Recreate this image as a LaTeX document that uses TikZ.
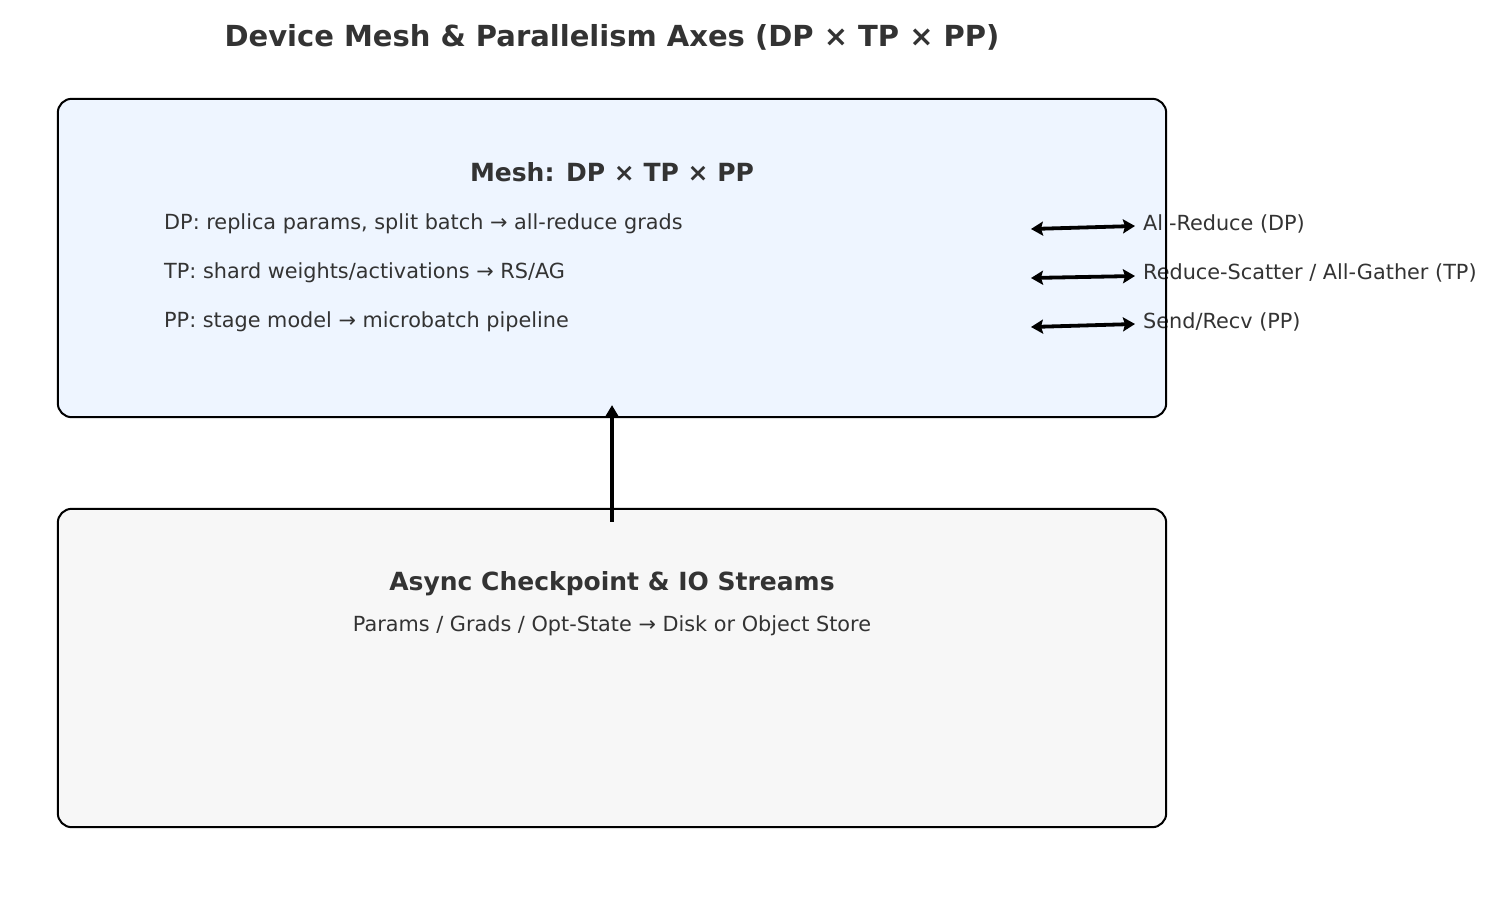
\documentclass[tikz,border=0pt]{standalone}
\usepackage{fontspec}
\setmainfont{DejaVu Sans}
\usetikzlibrary{arrows.meta,calc}
\definecolor{txt}{HTML}{333333}
\definecolor{meshfill}{HTML}{EEF5FF}
\definecolor{iofill}{HTML}{F7F7F7}
\tikzset{
  panel/.style={rounded corners=14pt, minimum width=1108pt, minimum height=318pt, inner sep=0pt},
  border/.style={draw=black, line width=2pt, rounded corners=14pt},
  body/.style={text=txt, font=\fontsize{20.8}{25}\selectfont, inner sep=0pt},
  head/.style={text=txt, font=\fontsize{25}{30}\selectfont\bfseries, inner sep=0pt},
  conn/.style={line width=3.8pt, {Stealth[length=12pt,width=14pt,inset=2pt]}-{Stealth[length=12pt,width=14pt,inset=2pt]}},
  uparrow/.style={line width=3.8pt, -{Stealth[length=12pt,width=14pt,inset=2pt]}}
}
\begin{document}
\begin{tikzpicture}[x=1pt,y=-1pt]
\useasboundingbox (0,0) rectangle (1500,900);
\fill[white] (0,0) rectangle (1500,900);
% title
\node[head, font=\fontsize{29}{34}\selectfont\bfseries] (title) at (612,37) {Device Mesh \& Parallelism Axes (DP × TP × PP)};
% panels
\node[panel, fill=meshfill] (mesh) at (612,258) {};
\node[panel, fill=iofill] (io) at (612,668) {};
% mesh text
\node[head] (meshhead) at (612,172) {Mesh: DP × TP × PP};
\node[body, anchor=west] (dp) at (164,224) {DP: replica params, split batch → all-reduce grads};
\node[body, anchor=west] (tp) at (164,273) {TP: shard weights/activations → RS/AG};
\node[body, anchor=west] (pp) at (164,322) {PP: stage model → microbatch pipeline};
% labels
\node[body, anchor=west] (ar) at (1143,224) {All-Reduce (DP)};
\node[body, anchor=west] (rs) at (1143,273) {Reduce-Scatter / All-Gather (TP)};
\node[body, anchor=west] (sr) at (1143,322) {Send/Recv (PP)};
% io text
\node[head] (iohead) at (612,584) {Async Checkpoint \& IO Streams};
\node[body] (iosub) at (612,626) {Params / Grads / Opt-State → Disk or Object Store};
% borders on top
\draw[border] (mesh.south west) rectangle (mesh.north east);
\draw[border] (io.south west) rectangle (io.north east);
% connectors
\coordinate (a1) at (1031,229);
\coordinate (a2) at (1031,278);
\coordinate (a3) at (1031,327);
\draw[conn] (a1) -- ($(ar.west)+(-8,2)$);
\draw[conn] (a2) -- ($(rs.west)+(-8,3)$);
\draw[conn] (a3) -- ($(sr.west)+(-8,2)$);
\coordinate (upstart) at ($(io.north)+(0,13)$);
\coordinate (upend) at ($(mesh.south)+(0,-12)$);
\draw[uparrow] (upstart) -- (upend);
\end{tikzpicture}
\end{document}
